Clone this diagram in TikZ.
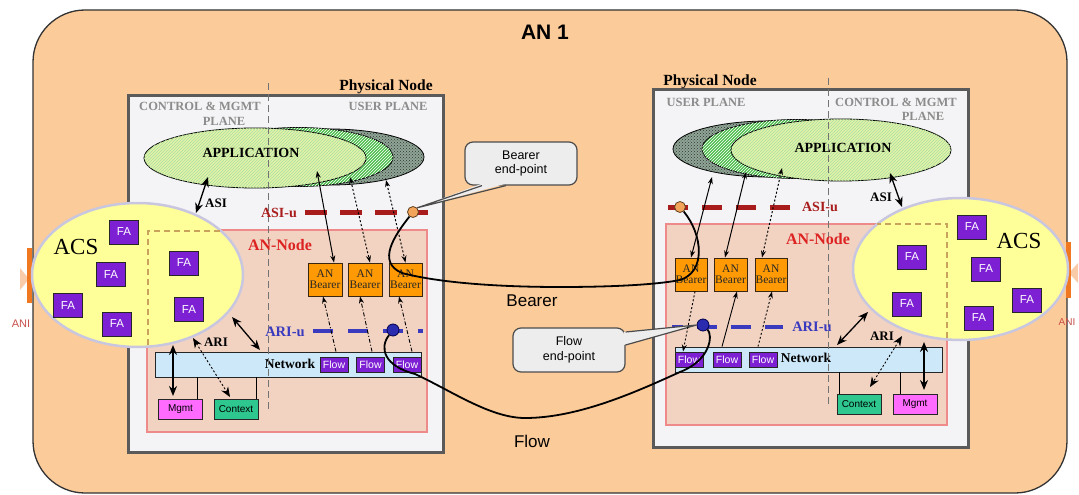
\documentclass[tikz,border=0pt]{standalone}
\usepackage{fontspec}
\setmainfont{Liberation Serif}
\setsansfont{Liberation Sans}
\usetikzlibrary{patterns,arrows.meta,shapes.geometric}
\newcommand{\myfs}[1]{\fontsize{#1}{#1}\selectfont}
\definecolor{peach}{HTML}{FBCB99}
\definecolor{boxgray}{HTML}{5A5A5A}
\definecolor{pnfill}{HTML}{F4F4F6}
\definecolor{anfill}{HTML}{F2D3C2}
\definecolor{anborder}{HTML}{EE8A8A}
\definecolor{acsfill}{HTML}{FFFF99}
\definecolor{acsborder}{HTML}{C9C6E0}
\definecolor{fapurple}{HTML}{7D1FD3}
\definecolor{bearorange}{HTML}{FF9A05}
\definecolor{netblue}{HTML}{CDE9F9}
\definecolor{mgmtpink}{HTML}{FF6BFF}
\definecolor{ctxgreen}{HTML}{2DC78F}
\definecolor{asired}{HTML}{A81C1C}
\definecolor{ariblue}{HTML}{3A3ABF}
\definecolor{planegray}{HTML}{8C8C8C}
\definecolor{tanline}{HTML}{C9A35E}
\definecolor{appfront}{HTML}{E4F2A6}
\definecolor{appgreen}{HTML}{4FBF4F}
\definecolor{appdark}{HTML}{8FA595}
\definecolor{callfill}{HTML}{EDEDED}
\definecolor{orangept}{HTML}{F2A45A}
\definecolor{bluept}{HTML}{2B2BB0}
\definecolor{aniorange}{HTML}{F07820}
\definecolor{anired}{HTML}{C8504A}
\definecolor{annodered}{HTML}{DD2222}
\begin{document}
\begin{tikzpicture}[x=1pt,y=-1pt,
  box/.style={draw=black!85, line width=0.9pt, inner sep=0pt},
  fabox/.style={box, fill=fapurple, minimum width=29pt, minimum height=24pt, text=white, font=\sffamily\myfs{11.5}},
  bearbox/.style={box, draw=black!70!brown, fill=bearorange, minimum width=33pt, minimum height=33pt, align=center, font=\myfs{11.5}, text=black!85},
  flowbox/.style={box, fill=fapurple, minimum width=28pt, minimum height=15pt, text=white, font=\sffamily\myfs{10.5}},
  netbar/.style={box, fill=netblue, minimum width=266pt, minimum height=25pt},
  smallbox/.style={box, minimum width=44pt, minimum height=20pt, font=\sffamily\myfs{10}},
  plane/.style={font=\bfseries\myfs{12.5}, text=planegray, inner sep=0pt},
  physnode/.style={draw=boxgray, line width=3pt, fill=pnfill, minimum width=315pt, inner sep=0pt},
  annode/.style={draw=anborder, line width=1.8pt, fill=anfill, inner sep=0pt},
  acs/.style={ellipse, fill=acsfill, draw=acsborder, line width=2.5pt, inner sep=0pt},
  appfr/.style={ellipse, draw=black, line width=0.8pt, fill=appfront, postaction={pattern=north east lines, pattern color=appgreen!50}, minimum width=222pt, minimum height=60pt, inner sep=0pt},
  appgr/.style={ellipse, draw=black, line width=0.8pt, fill=appgreen, postaction={pattern=north east lines, pattern color=white}, minimum width=190pt, minimum height=59pt, inner sep=0pt},
  appdk/.style={ellipse, draw=black, line width=0.8pt, fill=appdark, postaction={pattern=crosshatch dots, pattern color=black!80}, minimum width=188pt, minimum height=56pt, inner sep=0pt},
  divider/.style={draw=black!55, line width=1pt, dash pattern=on 7pt off 4pt},
  tandash/.style={draw=tanline, line width=1.8pt, dash pattern=on 6pt off 4pt},
  asiu/.style={draw=asired, line width=5pt},
  ariu/.style={draw=ariblue, line width=4.5pt},
  dbl/.style={line width=1.3pt, {Stealth[length=10pt,width=8pt]}-{Stealth[length=10pt,width=8pt]}},
  dbls/.style={line width=1pt, {Stealth[length=7pt,width=5pt]}-{Stealth[length=7pt,width=5pt]}},
  onear/.style={line width=0.9pt, -{Stealth[length=7pt,width=5pt]}},
  dotl/.style={dash pattern=on 2pt off 2pt},
  dashdotl/.style={dash pattern=on 4pt off 2pt on 1pt off 2pt},
  curve/.style={line width=1.8pt, draw=black},
  callout/.style={draw=black!70, line width=1.2pt, fill=callfill, rounded corners=8pt, align=center, font=\sffamily\myfs{12.5}, inner sep=0pt},
  opt/.style={circle, fill=orangept, draw=black!50!brown, line width=0.8pt, minimum size=11pt, inner sep=0pt},
  bpt/.style={circle, fill=bluept, draw=blue!30!black, line width=0.8pt, minimum size=12pt, inner sep=0pt},
  lblb/.style={font=\bfseries\myfs{13}, inner sep=0pt}
]
\useasboundingbox (0,0) rectangle (1079,495);
\fill[white] (0,0) rectangle (1079,495);

% outer AN 1 region
\node[draw=black!80, line width=1.3pt, fill=peach, rounded corners=52pt, minimum width=1034pt, minimum height=483pt, inner sep=0pt] (an1) at (550,251.5) {};
\node[font=\sffamily\bfseries\myfs{21}, inner sep=0pt] (an1t) at (545,32) {AN 1};

% ANI markers
\fill[aniorange!55, opacity=0.7] (20,268) -- (38,290) -- (38,268) -- (20,290) -- cycle;
\node[fill=aniorange, minimum width=5pt, minimum height=55pt, inner sep=0pt] (anil) at (29.5,275.5) {};
\node[font=\sffamily\myfs{11}, text=anired, inner sep=0pt] (anilt) at (21,324) {ANI};
\fill[aniorange!55, opacity=0.7] (1060,263) -- (1078,283) -- (1078,263) -- (1060,283) -- cycle;
\node[fill=aniorange, minimum width=5pt, minimum height=56pt, inner sep=0pt] (anir) at (1068.5,270) {};
\node[font=\sffamily\myfs{10}, text=anired, inner sep=0pt] (anirt) at (1067,322) {ANI};

% physical nodes
\node[physnode, minimum height=357pt] (pnl) at (285.5,273.5) {};
\node[physnode, minimum height=358pt] (pnr) at (810.5,268) {};
\node[font=\bfseries\myfs{15.5}, inner sep=0pt] (pnlt) at (386,87) {Physical Node};
\node[font=\bfseries\myfs{15.5}, inner sep=0pt] (pnrt) at (710,82) {Physical Node};
\node[plane] (lcp1) at (200,106) {CONTROL \& MGMT};
\node[plane] (lcp2) at (224,121) {PLANE};
\node[plane] (lup) at (388,106) {USER PLANE};
\node[plane] (rup) at (706,102) {USER PLANE};
\node[plane] (rcp1) at (896,102) {CONTROL \& MGMT};
\node[plane] (rcp2) at (923,116) {PLANE};

% AN-Node areas
\node[annode, minimum width=280pt, minimum height=202pt] (anl) at (287,331) {};
\node[annode, minimum width=281pt, minimum height=201pt] (anr) at (806.5,324.5) {};

% applications
\node[appdk] (lappd) at (330,157) {};
\node[appgr] (lappg) at (298,157) {};
\node[appfr] (lapp) at (255,158) {};
\node[lblb, font=\bfseries\myfs{14}] (lappt) at (251,153) {APPLICATION};
\node[appdk, minimum width=190pt] (rappd) at (768,149) {};
\node[appgr] (rappg) at (797,149) {};
\node[appfr, minimum width=220pt, minimum height=62pt] (rapp) at (841,150) {};
\node[lblb, font=\bfseries\myfs{14}] (rappt) at (843,148) {APPLICATION};

% network bars, flows, mgmt, context
\node[netbar] (lnet) at (288,364.5) {};
\node[netbar, minimum width=267pt] (rnet) at (808.5,359.5) {};
\node[lblb, font=\bfseries\myfs{13.5}] (lnett) at (290,364) {Network};
\node[lblb, font=\bfseries\myfs{13.5}] (rnett) at (806,358) {Network};
\node[flowbox] (lf1) at (334,364.5) {Flow};
\node[flowbox] (lf2) at (370.5,364.5) {Flow};
\node[flowbox] (lf3) at (407,364.5) {Flow};
\node[flowbox] (rf1) at (689,359.5) {Flow};
\node[flowbox] (rf2) at (727,359.5) {Flow};
\node[flowbox] (rf3) at (763,359.5) {Flow};
\node[smallbox, fill=mgmtpink] (lmg) at (180.5,409.5) {Mgmt};
\node[smallbox, fill=ctxgreen] (lctx) at (236,409.5) {Context};
\node[smallbox, fill=ctxgreen] (rctx) at (859,404) {Context};
\node[smallbox, fill=mgmtpink] (rmg) at (915,404) {Mgmt};
\draw[line width=0.9pt] ([xshift=-6pt]lmg.north east) -- ([xshift=-6pt]lmg.north east |- lnet.south);
\draw[line width=0.9pt] ([xshift=-2pt]lctx.north east) -- ([xshift=-2pt]lctx.north east |- lnet.south);
\draw[line width=0.9pt] ([xshift=3pt]rctx.north west) -- ([xshift=3pt]rctx.north west |- rnet.south);
\draw[line width=0.9pt] ([xshift=8pt]rmg.north west) -- ([xshift=8pt]rmg.north west |- rnet.south);

% bearers
\node[bearbox, minimum width=34pt] (lb1) at (325,279.5) {AN\\Bearer};
\node[bearbox, minimum width=34pt] (lb2) at (365,279.5) {AN\\Bearer};
\node[bearbox] (lb3) at (405.5,279.5) {AN\\Bearer};
\node[bearbox, minimum width=32pt] (rb1) at (691,274.5) {AN\\Bearer};
\node[bearbox] (rb2) at (730.5,274.5) {AN\\Bearer};
\node[bearbox, minimum width=32pt] (rb3) at (771,274.5) {AN\\Bearer};

% dividers
\coordinate (ldivt) at (268,83); \coordinate (ldivb) at (268,412);
\coordinate (rdivt) at (828,78); \coordinate (rdivb) at (828,405);
\draw[divider] (ldivt) -- (ldivb);
\draw[divider] (rdivt) -- (rdivb);

% AN-Node labels
\node[lblb, font=\bfseries\myfs{16}, text=annodered] (anlt) at (280,245) {AN-Node};
\node[lblb, font=\bfseries\myfs{16}, text=annodered] (anrt) at (818,239) {AN-Node};

% ACS
\node[acs, minimum width=211pt, minimum height=144pt] (acsl) at (137.5,275) {};
\node[acs, minimum width=215pt, minimum height=142pt] (acsr) at (960.5,269) {};
\coordinate (ltd1) at (148,345); \coordinate (ltd2) at (148,231); \coordinate (ltd3) at (221,231);
\draw[tandash] (ltd1) -- (ltd2) -- (ltd3);
\coordinate (rtd1) at (947,338); \coordinate (rtd2) at (947,224); \coordinate (rtd3) at (877,224);
\draw[tandash] (rtd1) -- (rtd2) -- (rtd3);
\node[font=\myfs{23}, inner sep=0pt] (acslt) at (76,247) {ACS};
\node[font=\myfs{23}, inner sep=0pt] (acsrt) at (1019,241) {ACS};
\node[fabox] (lfa1) at (124,232) {FA};
\node[fabox] (lfa2) at (111,274.5) {FA};
\node[fabox] (lfa3) at (68,305.5) {FA};
\node[fabox] (lfa4) at (117,324) {FA};
\node[fabox] (lfa5) at (184,263) {FA};
\node[fabox] (lfa6) at (189,309.5) {FA};
\node[fabox] (rfa1) at (972,227) {FA};
\node[fabox] (rfa2) at (986,269) {FA};
\node[fabox] (rfa3) at (1027,300) {FA};
\node[fabox] (rfa4) at (979,318) {FA};
\node[fabox] (rfa5) at (912,257) {FA};
\node[fabox] (rfa6) at (907,304) {FA};

% callouts
\node[callout, minimum width=112pt, minimum height=43pt] (bcall) at (521,163.5) {Bearer\\[2pt]end-point};
\node[callout, minimum width=112pt, minimum height=44pt] (fcall) at (569,350) {Flow\\[2pt]end-point};

% ASI-u / ARI-u lines with end-points
\coordinate (lasiu1) at (305,212); \coordinate (lasiu2) at (428,212);
\coordinate (rasiu1) at (668,207); \coordinate (rasiu2) at (792,207);
\draw[asiu, dash pattern=on 22pt off 13pt] (lasiu1) -- (lasiu2);
\draw[asiu, dash pattern=on 20pt off 14pt] (rasiu1) -- (rasiu2);
\coordinate (lariu1) at (313,331); \coordinate (lariu2) at (423,331);
\coordinate (rariu1) at (672,327); \coordinate (rariu2) at (783,327);
\draw[ariu, dash pattern=on 20pt off 15pt] (lariu1) -- (lariu2);
\draw[ariu, dash pattern=on 20pt off 14pt, dash phase=9pt] (rariu1) -- (rariu2);

% callout tails
\node[opt] (lopt) at (413,212) {};
\node[opt] (ropt) at (680,207) {};
\node[bpt] (lbpt) at (393,330) {};
\node[bpt] (rbpt) at (703,325) {};
\fill[callfill] ([xshift=-39pt,yshift=2pt]bcall.south) -- (lopt.north east) -- ([xshift=-15pt,yshift=2pt]bcall.south) -- cycle;
\draw[black!70, line width=1.2pt] ([xshift=-39pt]bcall.south) -- (lopt.north east) -- ([xshift=-15pt]bcall.south);
\fill[callfill] ([xshift=-2pt,yshift=18pt]fcall.east) -- (rbpt.west) -- ([xshift=-2pt,yshift=5pt]fcall.east) -- cycle;
\draw[black!70, line width=1.2pt] ([yshift=18pt]fcall.east) -- (rbpt.west) -- ([yshift=5pt]fcall.east);

% labels of interfaces
\node[lblb, text=asired, font=\bfseries\myfs{14}] (lasiut) at (279,213) {ASI-u};
\node[lblb, text=asired, font=\bfseries\myfs{14}] (rasiut) at (820,207) {ASI-u};
\node[lblb, text=ariblue, font=\bfseries\myfs{14.5}] (lariut) at (285,332) {ARI-u};
\node[lblb, text=ariblue, font=\bfseries\myfs{14.5}] (rariut) at (812,327) {ARI-u};
\node[lblb] (lasit) at (216,203) {ASI};
\node[lblb] (rasit) at (881,197) {ASI};
\node[lblb] (larit) at (216,342) {ARI};
\node[lblb] (rarit) at (882,336) {ARI};

% ASI arrows
\coordinate (lasia) at (208,177); \coordinate (lasib) at (196,213);
\coordinate (rasia) at (890,173); \coordinate (rasib) at (902,207);
\draw[dbl] (lasia) -- (lasib);
\draw[dbl] (rasia) -- (rasib);

% ARI arrows
\coordinate (lar1a) at (173,345); \coordinate (lar1b) at (173,396);
\coordinate (lar2a) at (193,338); \coordinate (lar2b) at (230,397);
\coordinate (lar3a) at (232,317); \coordinate (lar3b) at (260,350);
\draw[dbl] (lar1a) -- (lar1b);
\draw[dbl, line width=0.9pt, dotl] (lar2a) -- (lar2b);
\draw[dbl] (lar3a) -- (lar3b);
\coordinate (rar1a) at (868,312); \coordinate (rar1b) at (837,345);
\coordinate (rar2a) at (902,336); \coordinate (rar2b) at (870,387);
\coordinate (rar3a) at (924,342); \coordinate (rar3b) at (924,390);
\draw[dbl] (rar1a) -- (rar1b);
\draw[dbl, line width=0.9pt, dotl] (rar2a) -- (rar2b);
\draw[dbl] (rar3a) -- (rar3b);

% application <-> bearer
\coordinate (lap1) at (317,171); \coordinate (lap2) at (350,177); \coordinate (lap3) at (386,180);
\draw[dbls] (lap1) -- ([xshift=9pt]lb1.north);
\draw[dbls, dotl] (lap2) -- ([xshift=5pt]lb2.north);
\draw[dbls, dotl] (lap3) -- (lb3.north);
\coordinate (rap1) at (712,177); \coordinate (rap2) at (746,172); \coordinate (rap3) at (782,168);
\draw[dbls] (rap1) -- (rb1.north);
\draw[dbls] (rap2) -- ([xshift=-5.5pt]rb2.north);
\draw[dbls, dotl] (rap3) -- ([xshift=-9pt]rb3.north);

% flow -> bearer
\draw[onear, dashdotl] ([xshift=2pt]lf1.north |- lnet.north) -- ([xshift=-2pt]lb1.south);
\draw[onear, dashdotl] ([xshift=1.5pt]lf2.north |- lnet.north) -- ([xshift=-5pt]lb2.south);
\draw[onear, dashdotl] ([xshift=5pt]lf3.north |- lnet.north) -- ([xshift=-6.5pt]lb3.south);
\draw[onear, dotl] ([xshift=4pt]rb1.south) -- ([xshift=-6pt]rf1.north);
\draw[onear] ([xshift=-5pt]rf2.north |- rnet.north) -- ([xshift=6.5pt]rb2.south);
\draw[onear, dotl] ([xshift=-5pt]rf3.north |- rnet.north) -- ([xshift=1pt]rb3.south);

% bearer and flow curves
\draw[curve] (lopt) .. controls (395,235) and (376,262) .. (402,273)
  .. controls (440,283) and (500,287) .. (560,287)
  .. controls (620,287) and (660,284) .. (680,280)
  .. controls (706,272) and (703,235) .. (ropt);
\draw[curve] (lbpt) .. controls (379,348) and (384,366) .. (415,374)
  .. controls (450,390) and (490,418) .. (525,418)
  .. controls (580,418) and (640,390) .. (680,372)
  .. controls (711,360) and (713,335) .. (rbpt);
\node[font=\sffamily\myfs{17}, inner sep=0pt] (beart) at (532,301) {Bearer};
\node[font=\sffamily\myfs{17}, inner sep=0pt] (flowt) at (532,441) {Flow};
\end{tikzpicture}
\end{document}
